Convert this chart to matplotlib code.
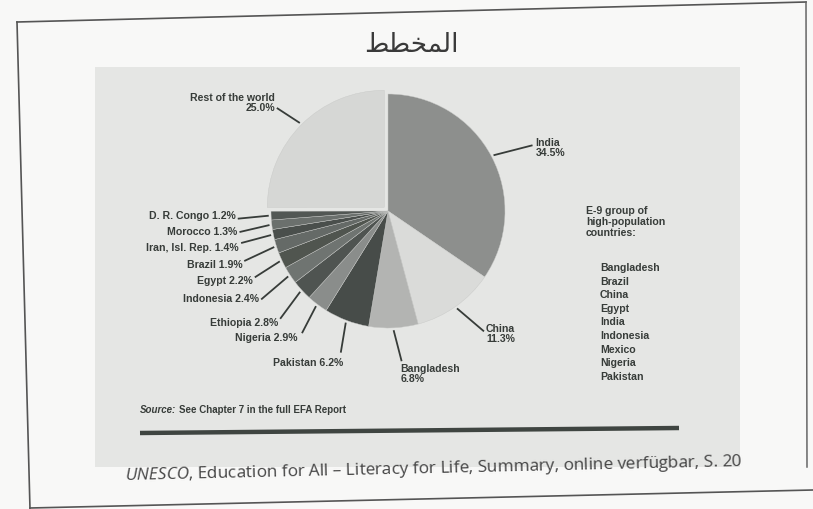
import numpy as np
import matplotlib
matplotlib.use('Agg')
import matplotlib.pyplot as plt
from matplotlib.patches import Rectangle

# data
names = ['India', 'China', 'Bangladesh', 'Pakistan', 'Nigeria', 'Ethiopia',
         'Indonesia', 'Egypt', 'Brazil', 'Iran, Isl. Rep.', 'Morocco',
         'D. R. Congo', 'Rest of the world']
shares = [34.5, 11.3, 6.8, 6.2, 2.9, 2.8, 2.4, 2.2, 1.9, 1.4, 1.3, 1.2, 25.0]
e9_countries = ['Bangladesh', 'Brazil', 'China', 'Egypt', 'India',
                'Indonesia', 'Mexico', 'Nigeria', 'Pakistan']
e9_heading = 'E-9 group of\nhigh-population\ncountries:'
# "المخطط" written in presentation forms, left to right, so it shows joined
title_ar = '\ufec2\ufec4\ufea8\ufee4\ufedf\ufe8d'
source_note = 'See Chapter 7 in the full EFA Report'
citation = r'$\it{UNESCO}$, Education for All – Literacy for Life, Summary, online verfügbar, S. 20'

# style
colors = ['#8d8f8d', '#dadbd9', '#b3b4b2', '#474c49', '#8a8d8b', '#4f5451',
          '#6f7471', '#50554f', '#656a67', '#4a4f4c', '#6b706d', '#525754',
          '#d6d7d5']
explode = [0] * 12 + [0.045]
two_line = {'India', 'China', 'Bangladesh', 'Rest of the world'}
# leader line end (px from slice edge), text alignment, text nudge (px)
label_layout = [
    (39, -10, 'left', 'center', 3, 2),
    (27, 23, 'left', 'center', 2, 2),
    (8, 31, 'left', 'top', -1, 2),
    (-5, 30, 'right', 'top', 2, 4),
    (-14, 27, 'right', 'center', -4, 4),
    (-20, 27, 'right', 'center', -2, 3),
    (-27, 23, 'right', 'center', -2, -1),
    (-25, 16, 'right', 'center', -2, 3),
    (-30, 14, 'right', 'center', -2, 3),
    (-30, 8, 'right', 'center', -2, 4),
    (-30, 7, 'right', 'center', -2, -1),
    (-31, 3, 'right', 'center', -2, -4),
    (-23, -15, 'right', 'center', -2, -6),
]
ink = '#373c39'
lab_font = 'Liberation Sans'
lab_size = 7.6

plt.rcParams['mathtext.fontset'] = 'custom'
plt.rcParams['mathtext.rm'] = 'Open Sans'
plt.rcParams['mathtext.it'] = 'Open Sans:italic'

W, H = 813, 510
fig = plt.figure(figsize=(W / 100, H / 100), dpi=100)
fig.patch.set_facecolor('#f8f8f7')

bg = fig.add_axes([0, 0, 1, 1])
bg.set_xlim(0, W)
bg.set_ylim(H, 0)
bg.axis('off')

# scanned page: grey print area and the frame around it
bg.add_patch(Rectangle((95, 68), 645, 400, facecolor='#e5e6e4', edgecolor='none'))
bg.plot([17, 806], [23, 3], color='#555', lw=1.2)
bg.plot([17, 30], [23, 510], color='#555', lw=1.2)
bg.plot([30, 813], [509, 491], color='#555', lw=1.2)
bg.plot([806, 807], [3, 468], color='#666', lw=1.1)

bg.text(411, 45, title_ar, family='DejaVu Sans', fontsize=19,
        color='#3a3a3a', ha='center', va='center')

# pie
R = 117
cx, cy = 388, 212
lim = 1.6
side = 2 * lim * R
pax = fig.add_axes([(cx - side / 2) / W, (H - cy - side / 2) / H, side / W, side / H])
wedges, _ = pax.pie(shares, colors=colors, startangle=90, counterclock=False,
                    explode=explode,
                    wedgeprops=dict(linewidth=0.3, edgecolor='#c8c9c7'))
pax.set_xlim(-lim, lim)
pax.set_ylim(-lim, lim)
pax.axis('off')

for w, name, val, lay in zip(wedges, names, shares, label_layout):
    dx, dy, ha, va, tdx, tdy = lay
    ang = np.deg2rad((w.theta1 + w.theta2) / 2)
    x0, y0 = w.center
    ex, ey = x0 + 1.02 * np.cos(ang), y0 + 1.02 * np.sin(ang)
    tx, ty = ex + dx / R, ey - dy / R
    pax.plot([ex, tx], [ey, ty], color=ink, lw=1.3, solid_capstyle='butt')
    sep = '\n' if name in two_line else ' '
    pax.text(tx + tdx / R, ty - tdy / R, f'{name}{sep}{val:.1f}%',
             ha=ha, va=va, multialignment=ha, family=lab_font,
             fontsize=lab_size, fontweight='bold', color=ink, linespacing=1.0)

# E-9 box
bg.text(586, 206, e9_heading, family=lab_font, fontsize=lab_size,
        fontweight='bold', color=ink, va='top', linespacing=1.1)
bg.text(600, 263, '\n'.join(e9_countries), family=lab_font, fontsize=lab_size,
        fontweight='bold', color=ink, va='top', linespacing=1.45)

# source and rule
renderer = fig.canvas.get_renderer()
src = bg.text(140, 410, 'Source:', family=lab_font, fontsize=7,
              fontweight='bold', style='italic', color=ink, va='center')
x_end = bg.transData.inverted().transform(
    (src.get_window_extent(renderer).x1, 0))[0]
bg.text(x_end + 3, 410, source_note, family=lab_font, fontsize=7,
        fontweight='bold', color=ink, va='center')
bg.plot([140, 679], [434, 429], color='#3f4541', lw=3.2, solid_capstyle='butt')

bg.text(125, 476, citation, family='Open Sans', fontsize=12.3, color='#454545',
        ha='left', va='center', rotation=1.3, rotation_mode='anchor')

fig.savefig('out.png', dpi=100, facecolor=fig.get_facecolor())
